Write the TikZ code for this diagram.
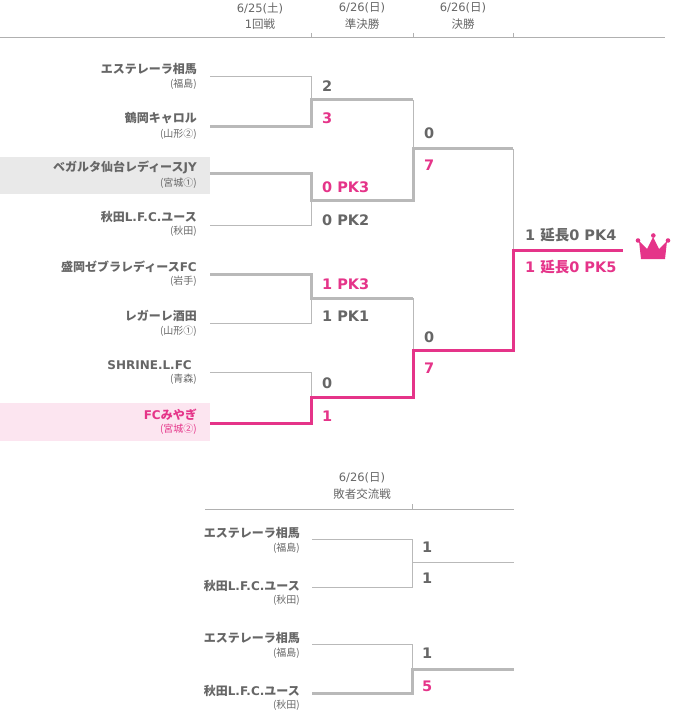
\documentclass[tikz,border=0pt]{standalone}
\usepackage{fontspec}
\setmainfont{Noto Sans CJK JP}
\newfontfamily\jp{Noto Sans CJK JP}
\newfontfamily\lat{DejaVu Sans}
\definecolor{txt}{RGB}{102,102,102}
\definecolor{pk}{RGB}{229,52,137}
\definecolor{lgrey}{RGB}{185,185,185}
\definecolor{hgrey}{RGB}{176,176,176}
\definecolor{greybg}{RGB}{233,233,233}
\definecolor{pinkbg}{RGB}{252,229,240}
\tikzset{
  team/.style={anchor=east, inner sep=0pt, text=txt, font=\bfseries\fontsize{12}{12}\selectfont},
  pref/.style={anchor=east, inner sep=0pt, text=txt, font=\fontsize{10}{10}\selectfont},
  score/.style={anchor=west, inner sep=0pt, text=txt, font=\lat\bfseries\fontsize{14.5}{15}\selectfont},
  hdr/.style={inner sep=0pt, text=txt, font=\fontsize{11.5}{12}\selectfont},
  win/.style={text=pk},
  thinline/.style={draw=lgrey, line width=1pt},
  thickline/.style={draw=lgrey, line width=3pt, line join=miter},
  pinkline/.style={draw=pk, line width=3pt, line join=miter},
  hline/.style={draw=hgrey, line width=1pt}
}
\begin{document}
\begin{tikzpicture}[x=1pt,y=-1pt]
\useasboundingbox (0,0) rectangle (673,714);
% backgrounds
\fill[greybg] (0,157) rectangle (210,194);
\fill[pinkbg] (0,403) rectangle (210,441);
% header
\coordinate (hl) at (0,38);
\coordinate (hr) at (665,38);
\draw[hline] (hl) -- (hr);
\coordinate (k1) at (311,33); \coordinate (k2) at (413,33); \coordinate (k3) at (513,33);
\draw[hline] (k1) -- (k1 |- hl);
\draw[hline] (k2) -- (k2 |- hl);
\draw[hline] (k3) -- (k3 |- hl);
\node[hdr] (h1a) at (260,8) {{\lat 6/25(}土{\lat )}};
\node[hdr] (h1b) at (260,24) {{\lat 1}回戦};
\node[hdr] (h2a) at (362,8) {{\lat 6/26(}日{\lat )}};
\node[hdr] (h2b) at (362,24) {準決勝};
\node[hdr] (h3a) at (463,8) {{\lat 6/26(}日{\lat )}};
\node[hdr] (h3b) at (463,24) {決勝};
% team names
\node[team] (n1) at (197,69) {エステレーラ相馬};
\node[pref] (p1) at (197,84) {(福島)};
\node[team] (n2) at (197,118.5) {鶴岡キャロル};
\node[pref] (p2) at (197,134) {(山形②)};
\node[team] (n3) at (197,167.5) {ベガルタ仙台レディース{\lat JY}};
\node[pref] (p3) at (197,183.5) {(宮城①)};
\node[team] (n4) at (197,216.5) {秋田{\lat L.F.C.}ユース};
\node[pref] (p4) at (197,231.5) {(秋田)};
\node[team] (n5) at (197,266.5) {盛岡ゼブラレディース{\lat FC}};
\node[pref] (p5) at (197,281) {(岩手)};
\node[team] (n6) at (197,316) {レガーレ酒田};
\node[pref] (p6) at (197,331) {(山形①)};
\node[team] (n7) at (192,365) {{\lat SHRINE.L.FC}};
\node[pref] (p7) at (197,379.5) {(青森)};
\node[team,win] (n8) at (197,415) {{\lat FC}みやぎ};
\node[pref,win] (p8) at (197,429.5) {(宮城②)};
% bracket coordinates
\coordinate (t1) at (210,77);
\coordinate (t2) at (210,127);
\coordinate (t3) at (210,174);
\coordinate (t4) at (210,225);
\coordinate (t5) at (210,274);
\coordinate (t6) at (210,323);
\coordinate (t7) at (210,372);
\coordinate (t8) at (210,423);
\coordinate (s1) at (311,100);
\coordinate (s2) at (311,200);
\coordinate (s3) at (311,298);
\coordinate (s4) at (311,397);
\coordinate (f1) at (413,149);
\coordinate (f2) at (413,350);
\coordinate (c) at (513,250);
\coordinate (e) at (623,250);
% thin lines
\draw[thinline] (t1) -| (s1);
\draw[thinline] (t4) -| (s2);
\draw[thinline] (t6) -| (s3);
\draw[thinline] (t7) -| (s4);
\draw[thinline] (s1 -| f1) -- (f1);
\draw[thinline] (s3 -| f2) -- (f2);
\draw[thinline] (f1 -| c) -- (c);
% thick grey
\draw[thickline] (t2) -| (s1) -- (s1 -| f1);
\draw[thickline] (t3) -| (s2) -| (f1) -- (f1 -| c);
\draw[thickline] (t5) -| (s3) -- (s3 -| f2);
% pink winner path
\draw[pinkline] (t8) -| (s4) -| (f2) -| (c) -- (e);
% scores
\node[score] (a1) at (322,86) {2};
\node[score,win] (a2) at (322,118) {3};
\node[score,win] (a3) at (322,187) {0 PK3};
\node[score] (a4) at (322,220) {0 PK2};
\node[score,win] (a5) at (322,284) {1 PK3};
\node[score] (a6) at (322,316) {1 PK1};
\node[score] (a7) at (322,383) {0};
\node[score,win] (a8) at (322,416) {1};
\node[score] (b1) at (424,133) {0};
\node[score,win] (b2) at (424,165) {7};
\node[score] (b3) at (424,337) {0};
\node[score,win] (b4) at (424,368) {7};
\node[score] (c1) at (525,235) {1 {\jp 延長}0 PK4};
\node[score,win] (c2) at (525,267) {1 {\jp 延長}0 PK5};
% crown
\fill[pk] (641,259) -- (639,241) -- (647,249) -- (653,237) -- (659,249) -- (667,241) -- (665,259) -- cycle;
\fill[pk] (638,240.5) circle (2.3);
\fill[pk] (653.3,235.5) circle (2.3);
\fill[pk] (668,240.5) circle (2.3);
% ---------- bottom section ----------
\node[hdr] (h4a) at (362,478) {{\lat 6/26(}日{\lat )}};
\node[hdr] (h4b) at (362,494) {敗者交流戦};
\coordinate (bl) at (205,509);
\coordinate (br) at (514,509);
\draw[hline] (bl) -- (br);
\coordinate (k4) at (412,504);
\draw[hline] (k4) -- (k4 |- bl);
\node[team] (m1) at (300,533) {エステレーラ相馬};
\node[pref] (q1) at (300,548) {(福島)};
\node[team] (m2) at (300,586) {秋田{\lat L.F.C.}ユース};
\node[pref] (q2) at (300,600.5) {(秋田)};
\node[team] (m3) at (300,638) {エステレーラ相馬};
\node[pref] (q3) at (300,653) {(福島)};
\node[team] (m4) at (300,691) {秋田{\lat L.F.C.}ユース};
\node[pref] (q4) at (300,705.5) {(秋田)};
\coordinate (u1) at (312,539);
\coordinate (u2) at (312,587);
\coordinate (u3) at (312,644);
\coordinate (u4) at (312,693);
\coordinate (j1) at (412,562);
\coordinate (j2) at (412,669);
\coordinate (x1) at (514,562);
\coordinate (x2) at (514,669);
\draw[thinline] (u1) -| (j1);
\draw[thinline] (u2) -| (j1) -- (x1);
\draw[thinline] (u3) -| (j2);
\draw[thickline] (u4) -| (j2) -- (x2);
\node[score] (d1) at (422,547) {1};
\node[score] (d2) at (422,578) {1};
\node[score] (d3) at (422,653) {1};
\node[score,win] (d4) at (422,686) {5};
\end{tikzpicture}
\end{document}
